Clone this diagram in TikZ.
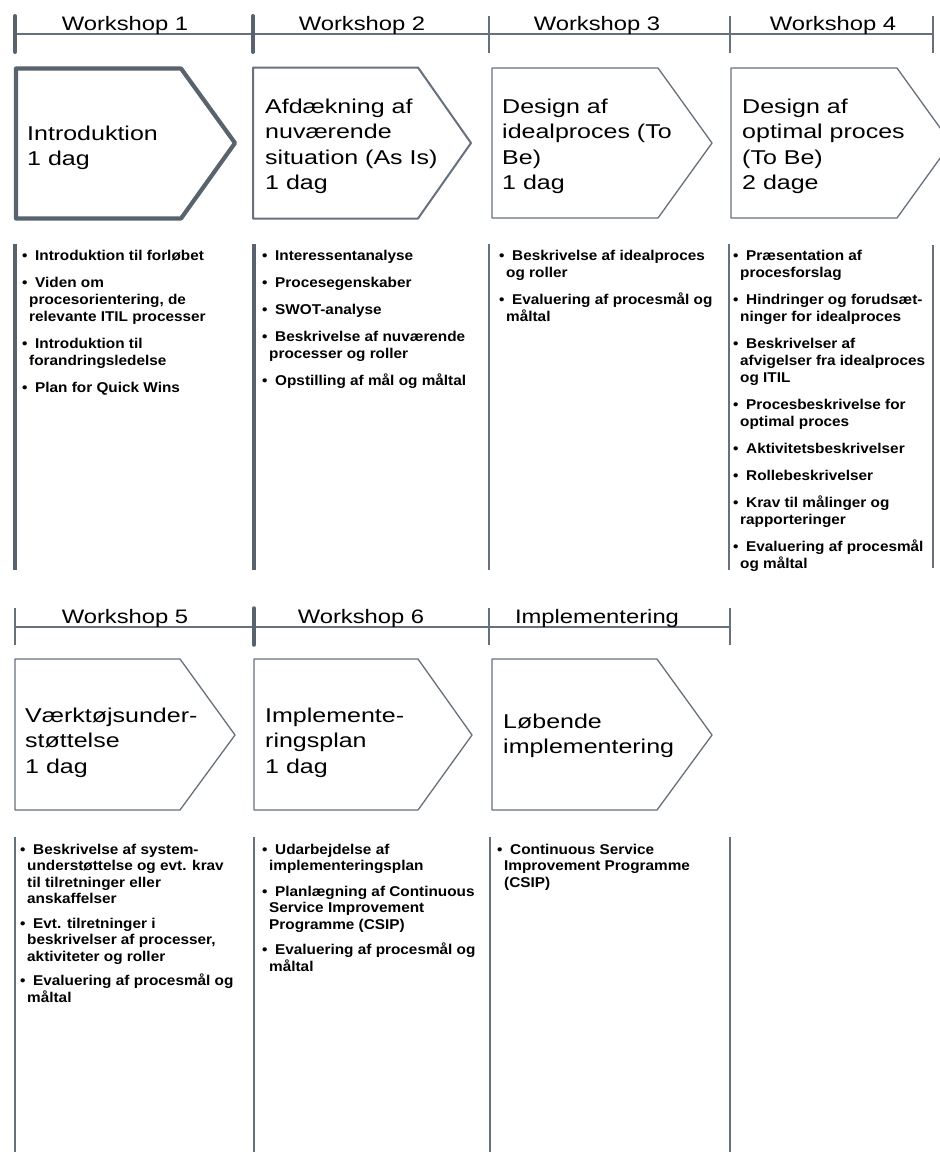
\documentclass[tikz,border=0pt]{standalone}
\usepackage{fontspec}
\setmainfont{Liberation Sans}
\newfontfamily\hdfont{Liberation Sans}[FakeStretch=1.22]
\newfontfamily\chfont{Liberation Sans}[FakeStretch=1.25]
\newfontfamily\blfont{Liberation Sans}[FakeStretch=1.08]
\definecolor{lg}{HTML}{66717B}
\definecolor{lgd}{HTML}{58636D}
\newcommand{\bi}{\makebox[13pt][l]{•}}
\newcommand{\bc}{\hspace*{7pt}}
\newcommand{\tl}[1]{\begin{tabular}[t]{@{}l@{}}#1\end{tabular}}
\tikzset{
  hline/.style={draw=lg, line width=1.5pt},
  tickthick/.style={draw=lgd, line width=4pt, line cap=round},
  tickthin/.style={draw=lg, line width=2pt},
  colthick/.style={draw=lgd, line width=3.2pt},
  colthin/.style={draw=lg, line width=1.6pt},
  chev/.style={draw=lg, line width=1.3pt, line join=round},
  hd/.style={font=\hdfont\fontsize{19.5}{19.5}\selectfont, anchor=base, inner sep=0pt},
  cht/.style={font=\chfont\fontsize{20}{25.5}\selectfont, anchor=base west, inner sep=0pt},
  bl/.style={font=\blfont\bfseries\fontsize{14.2}{17}\selectfont, anchor=base west, inner sep=0pt},
  blb/.style={font=\blfont\bfseries\fontsize{14.2}{16.5}\selectfont, anchor=base west, inner sep=0pt}
}
\begin{document}
\begin{tikzpicture}[x=1pt,y=-1pt]
\useasboundingbox (0,0) rectangle (940,1152);
\clip (0,0) rectangle (940,1152);
\fill[white] (0,0) rectangle (940,1152);

% ---------- Row 1 header ----------
\draw[hline] (15,34) -- (933,34);
\draw[tickthick] (15,16) -- (15,52);
\draw[tickthick] (253,16) -- (253,52);
\draw[tickthin] (489,16) -- (489,53);
\draw[tickthin] (730,16) -- (730,53);
\draw[tickthin] (933,16) -- (933,53);
\node[hd] (h1) at (125,30) {Workshop 1};
\node[hd] (h2) at (362,30) {Workshop 2};
\node[hd] (h3) at (597,30) {Workshop 3};
\node[hd] (h4) at (833,30) {Workshop 4};

% ---------- Row 1 chevrons ----------
\draw[chev, draw=lgd, line width=4.2pt] (16,68.5) -- (181,68.5) -- (235,143) -- (181,218.5) -- (16,218.5) -- cycle;
\draw[chev, line width=2pt] (253,67.5) -- (418,67.5) -- (471,143) -- (418,218.5) -- (253,218.5) -- cycle;
\draw[chev] (492,68) -- (658,68) -- (712,143) -- (658,218) -- (492,218) -- cycle;
\draw[chev] (731,68) -- (897,68) -- (951,143) -- (897,218) -- (731,218) -- cycle;

\node[cht] (c1) at (27,140) {\tl{Introduktion\\1 dag}};
\node[cht] (c2) at (265,113) {\tl{Afdækning af\\nuværende\\situation (As Is)\\1 dag}};
\node[cht] (c3) at (502,113) {\tl{Design af\\idealproces (To\\Be)\\1 dag}};
\node[cht] (c4) at (742,113) {\tl{Design af\\optimal proces\\(To Be)\\2 dage}};

% ---------- Row 1 columns ----------
\draw[colthick] (15,244) -- (15,570);
\draw[colthick] (254,244) -- (254,570);
\draw[colthin] (489,244) -- (489,570);
\draw[colthin] (729,244) -- (729,570);
\draw[colthin] (933,245) -- (933,568);

\node[bl] (l1) at (22,260) {\tl{\bi Introduktion til forløbet\\[10pt]
\bi Viden om\\ \bc procesorientering, de\\ \bc relevante ITIL processer\\[10pt]
\bi Introduktion til\\ \bc forandringsledelse\\[10pt]
\bi Plan for Quick Wins}};

\node[bl] (l2) at (262,260) {\tl{\bi Interessentanalyse\\[10pt]
\bi Procesegenskaber\\[10pt]
\bi SWOT-analyse\\[10pt]
\bi Beskrivelse af nuværende\\ \bc processer og roller\\[10pt]
\bi Opstilling af mål og måltal}};

\node[bl] (l3) at (499,260) {\tl{\bi Beskrivelse af idealproces\\ \bc og roller\\[10pt]
\bi Evaluering af procesmål og\\ \bc måltal}};

\node[bl] (l4) at (733,260) {\tl{\bi Præsentation af\\ \bc procesforslag\\[10pt]
\bi Hindringer og forudsæt-\\ \bc ninger for idealproces\\[10pt]
\bi Beskrivelser af\\ \bc afvigelser fra idealproces\\ \bc og ITIL\\[10pt]
\bi Procesbeskrivelse for\\ \bc optimal proces\\[10pt]
\bi Aktivitetsbeskrivelser\\[10pt]
\bi Rollebeskrivelser\\[10pt]
\bi Krav til målinger og\\ \bc rapporteringer\\[10pt]
\bi Evaluering af procesmål\\ \bc og måltal}};

% ---------- Row 2 header ----------
\draw[hline] (15,627) -- (730,627);
\draw[tickthin, line width=2.5pt] (15,608) -- (15,645);
\draw[tickthick, line width=3.5pt] (254,608) -- (254,645);
\draw[tickthin, line width=2.5pt] (489,608) -- (489,645);
\draw[tickthin] (730,608) -- (730,645);
\node[hd] (h5) at (125,623) {Workshop 5};
\node[hd] (h6) at (361,623) {Workshop 6};
\node[hd] (h7) at (597,623) {Implementering};

% ---------- Row 2 chevrons ----------
\draw[chev] (15,659) -- (180,659) -- (235,735) -- (180,810) -- (15,810) -- cycle;
\draw[chev] (254,659) -- (418,659) -- (472,735) -- (418,810) -- (254,810) -- cycle;
\draw[chev] (492,659) -- (657,659) -- (712,735) -- (657,810) -- (492,810) -- cycle;

\node[cht] (c5) at (25,722) {\tl{Værktøjsunder-\\støttelse\\1 dag}};
\node[cht] (c6) at (265,722) {\tl{Implemente-\\ringsplan\\1 dag}};
\node[cht] (c7) at (503,728) {\tl{Løbende\\implementering}};

% ---------- Row 2 columns ----------
\draw[colthin, line width=2pt] (15,837) -- (15,1152);
\draw[colthin, line width=2pt] (254,837) -- (254,1152);
\draw[colthin] (490,837) -- (490,1152);
\draw[colthin] (730,837) -- (730,1152);

\node[blb] (l5) at (20,854) {\tl{\bi Beskrivelse af system-\\ \bc understøttelse og evt. krav\\ \bc til tilretninger eller\\ \bc anskaffelser\\[8pt]
\bi Evt. tilretninger i\\ \bc beskrivelser af processer,\\ \bc aktiviteter og roller\\[8pt]
\bi Evaluering af procesmål og\\ \bc måltal}};

\node[blb] (l6) at (262,854) {\tl{\bi Udarbejdelse af\\ \bc implementeringsplan\\[9pt]
\bi Planlægning af Continuous\\ \bc Service Improvement\\ \bc Programme (CSIP)\\[9pt]
\bi Evaluering af procesmål og\\ \bc måltal}};

\node[blb] (l7) at (497,854) {\tl{\bi Continuous Service\\ \bc Improvement Programme\\ \bc (CSIP)}};
\end{tikzpicture}
\end{document}
